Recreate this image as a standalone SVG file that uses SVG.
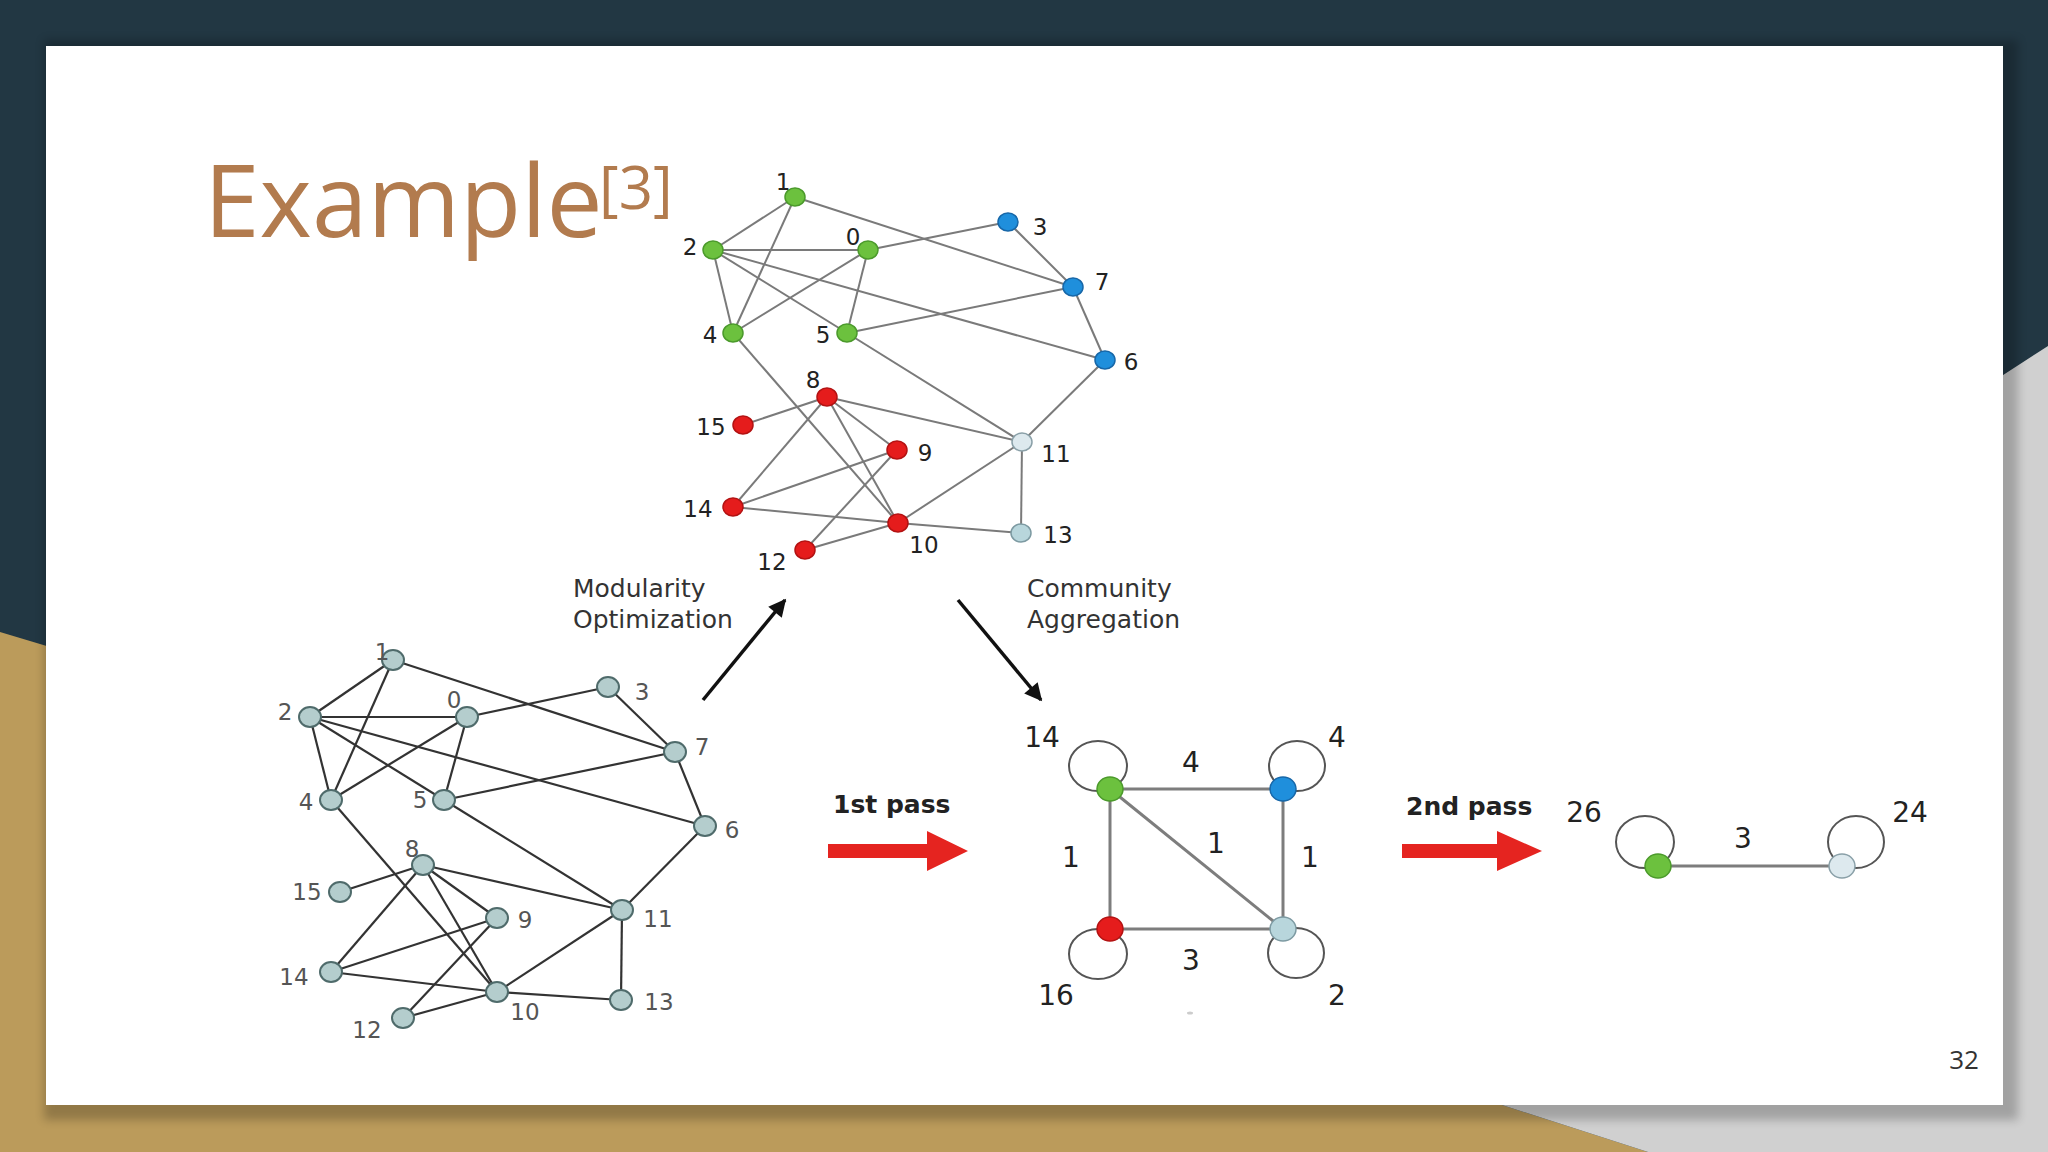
<svg xmlns="http://www.w3.org/2000/svg" width="2048" height="1152" viewBox="0 0 2048 1152">
<defs>
<style>
.lbl{font-family:"DejaVu Sans","Liberation Sans",sans-serif;font-size:23px;text-anchor:middle}
.lt{fill:#222}
.lb{fill:#555}
.eT{stroke:#7a7a7a;stroke-width:2;fill:none}
.eB{stroke:#333;stroke-width:2.2;fill:none}
.nB{fill:#b4cdcd;stroke:#4f6b6b;stroke-width:2}
.g{fill:#6cc13e;stroke:#4b9a2b;stroke-width:1.5}
.b{fill:#1f8fdc;stroke:#1767a8;stroke-width:1.5}
.r{fill:#e51c1c;stroke:#b31212;stroke-width:1.5}
.w{fill:#dde9ee;stroke:#8aa0a8;stroke-width:1.5}
.c{fill:#b8d6dc;stroke:#7d9aa2;stroke-width:1.5}
.agg{font-family:"DejaVu Sans","Liberation Sans",sans-serif;font-size:28px;fill:#222;text-anchor:middle}
.cap{font-family:"DejaVu Sans","Liberation Sans",sans-serif;font-size:25px;fill:#333}
.pass{font-family:"DejaVu Sans","Liberation Sans",sans-serif;font-size:25px;font-weight:bold;fill:#222}
.loop{fill:none;stroke:#555;stroke-width:2}
.ae{stroke:#7d7d7d;stroke-width:3}
.red{fill:#e52420}
</style>
<marker id="ah" viewBox="0 0 10 10" refX="9" refY="5" markerWidth="6" markerHeight="5" markerUnits="strokeWidth" orient="auto">
<path d="M0,0 L10,5 L0,10 z" fill="#111"/>
</marker>
<filter id="sh" x="-5%" y="-5%" width="110%" height="110%"><feGaussianBlur stdDeviation="5"/></filter>
</defs>

<!-- background -->
<rect width="2048" height="1152" fill="#223743"/>
<polygon points="0,632 80,656 80,1105 1502,1105 1648,1152 0,1152" fill="#bb9b5b"/>
<polygon points="1980,390 2048,346 2048,1152 1648,1152 1502,1105 1980,1105" fill="#d0d0d0"/>
<rect x="44" y="40" width="1974" height="1080" fill="#000" opacity="0.22" filter="url(#sh)"/>
<rect x="46" y="46" width="1957" height="1059" fill="#ffffff"/>

<!-- title -->
<g id="title">
<text x="204" y="237" font-family="'Open Sans','Lato',sans-serif" font-size="100" fill="#b27b4e">Example</text>
<text x="599" y="209" font-family="'Open Sans','Lato',sans-serif" font-size="60" fill="#b27b4e">[3]</text>
</g>

<!-- connectors -->
<g id="connectors">
<g id="top-edges" class="eT">
<line x1="795" y1="197" x2="713" y2="250"/>
<line x1="795" y1="197" x2="733" y2="333"/>
<line x1="795" y1="197" x2="1073" y2="287"/>
<line x1="713" y1="250" x2="868" y2="250"/>
<line x1="713" y1="250" x2="733" y2="333"/>
<line x1="713" y1="250" x2="847" y2="333"/>
<line x1="713" y1="250" x2="1105" y2="360"/>
<line x1="868" y1="250" x2="1008" y2="222"/>
<line x1="868" y1="250" x2="733" y2="333"/>
<line x1="868" y1="250" x2="847" y2="333"/>
<line x1="1008" y1="222" x2="1073" y2="287"/>
<line x1="1073" y1="287" x2="847" y2="333"/>
<line x1="1073" y1="287" x2="1105" y2="360"/>
<line x1="733" y1="333" x2="898" y2="523"/>
<line x1="847" y1="333" x2="1022" y2="442"/>
<line x1="1105" y1="360" x2="1022" y2="442"/>
<line x1="827" y1="397" x2="743" y2="425"/>
<line x1="827" y1="397" x2="733" y2="507"/>
<line x1="827" y1="397" x2="897" y2="450"/>
<line x1="827" y1="397" x2="898" y2="523"/>
<line x1="827" y1="397" x2="1022" y2="442"/>
<line x1="897" y1="450" x2="733" y2="507"/>
<line x1="897" y1="450" x2="805" y2="550"/>
<line x1="733" y1="507" x2="898" y2="523"/>
<line x1="898" y1="523" x2="1022" y2="442"/>
<line x1="898" y1="523" x2="1021" y2="533"/>
<line x1="898" y1="523" x2="805" y2="550"/>
<line x1="1022" y1="442" x2="1021" y2="533"/>
</g>
<g id="bottom-edges" class="eB">
<line x1="393" y1="660" x2="310" y2="717"/>
<line x1="393" y1="660" x2="331" y2="800"/>
<line x1="393" y1="660" x2="675" y2="752"/>
<line x1="310" y1="717" x2="467" y2="717"/>
<line x1="310" y1="717" x2="331" y2="800"/>
<line x1="310" y1="717" x2="444" y2="800"/>
<line x1="310" y1="717" x2="705" y2="826"/>
<line x1="467" y1="717" x2="608" y2="687"/>
<line x1="467" y1="717" x2="331" y2="800"/>
<line x1="467" y1="717" x2="444" y2="800"/>
<line x1="608" y1="687" x2="675" y2="752"/>
<line x1="675" y1="752" x2="444" y2="800"/>
<line x1="675" y1="752" x2="705" y2="826"/>
<line x1="331" y1="800" x2="497" y2="992"/>
<line x1="444" y1="800" x2="622" y2="910"/>
<line x1="705" y1="826" x2="622" y2="910"/>
<line x1="423" y1="865" x2="340" y2="892"/>
<line x1="423" y1="865" x2="331" y2="972"/>
<line x1="423" y1="865" x2="497" y2="918"/>
<line x1="423" y1="865" x2="497" y2="992"/>
<line x1="423" y1="865" x2="622" y2="910"/>
<line x1="497" y1="918" x2="331" y2="972"/>
<line x1="497" y1="918" x2="403" y2="1018"/>
<line x1="331" y1="972" x2="497" y2="992"/>
<line x1="497" y1="992" x2="622" y2="910"/>
<line x1="497" y1="992" x2="621" y2="1000"/>
<line x1="497" y1="992" x2="403" y2="1018"/>
<line x1="622" y1="910" x2="621" y2="1000"/>
</g>
<g id="agg-edges">
<line class="ae" x1="1110" y1="789" x2="1283" y2="789"/>
<line class="ae" x1="1110" y1="789" x2="1110" y2="929"/>
<line class="ae" x1="1283" y1="789" x2="1283" y2="929"/>
<line class="ae" x1="1110" y1="929" x2="1283" y2="929"/>
<line class="ae" x1="1110" y1="789" x2="1283" y2="929"/>
<ellipse class="loop" cx="1098" cy="766" rx="29" ry="25"/>
<ellipse class="loop" cx="1297" cy="766" rx="28" ry="25"/>
<ellipse class="loop" cx="1098" cy="954" rx="29" ry="25"/>
<ellipse class="loop" cx="1296" cy="953" rx="28" ry="25"/>
<line class="ae" x1="1658" y1="866" x2="1842" y2="866"/>
<ellipse class="loop" cx="1645" cy="842" rx="29" ry="26"/>
<ellipse class="loop" cx="1856" cy="842" rx="28" ry="26"/>
</g>
<g id="flow-arrows">
<line x1="703" y1="700" x2="785" y2="600" stroke="#111" stroke-width="3.5" marker-end="url(#ah)"/>
<line x1="958" y1="600" x2="1041" y2="700" stroke="#111" stroke-width="3.5" marker-end="url(#ah)"/>
<polygon class="red" points="828,844 927,844 927,831 968,851 927,871 927,858 828,858"/>
<polygon class="red" points="1402,844 1497,844 1497,831 1542,851 1497,871 1497,858 1402,858"/>
</g>
</g>

<!-- top graph nodes -->
<g id="top-graph">
<g id="t1"><ellipse class="g" cx="795" cy="197" rx="10" ry="9"/><text class="lbl lt" x="783" y="190">1</text></g>
<g id="t2"><ellipse class="g" cx="713" cy="250" rx="10" ry="9"/><text class="lbl lt" x="690" y="255">2</text></g>
<g id="t0"><ellipse class="g" cx="868" cy="250" rx="10" ry="9"/><text class="lbl lt" x="853" y="245">0</text></g>
<g id="t3"><ellipse class="b" cx="1008" cy="222" rx="10" ry="9"/><text class="lbl lt" x="1040" y="235">3</text></g>
<g id="t7"><ellipse class="b" cx="1073" cy="287" rx="10" ry="9"/><text class="lbl lt" x="1102" y="290">7</text></g>
<g id="t4"><ellipse class="g" cx="733" cy="333" rx="10" ry="9"/><text class="lbl lt" x="710" y="343">4</text></g>
<g id="t5"><ellipse class="g" cx="847" cy="333" rx="10" ry="9"/><text class="lbl lt" x="823" y="343">5</text></g>
<g id="t6"><ellipse class="b" cx="1105" cy="360" rx="10" ry="9"/><text class="lbl lt" x="1131" y="370">6</text></g>
<g id="t8"><ellipse class="r" cx="827" cy="397" rx="10" ry="9"/><text class="lbl lt" x="813" y="388">8</text></g>
<g id="t15"><ellipse class="r" cx="743" cy="425" rx="10" ry="9"/><text class="lbl lt" x="711" y="435">15</text></g>
<g id="t9"><ellipse class="r" cx="897" cy="450" rx="10" ry="9"/><text class="lbl lt" x="925" y="461">9</text></g>
<g id="t11"><ellipse class="w" cx="1022" cy="442" rx="10" ry="9"/><text class="lbl lt" x="1056" y="462">11</text></g>
<g id="t14"><ellipse class="r" cx="733" cy="507" rx="10" ry="9"/><text class="lbl lt" x="698" y="517">14</text></g>
<g id="t10"><ellipse class="r" cx="898" cy="523" rx="10" ry="9"/><text class="lbl lt" x="924" y="553">10</text></g>
<g id="t13"><ellipse class="c" cx="1021" cy="533" rx="10" ry="9"/><text class="lbl lt" x="1058" y="543">13</text></g>
<g id="t12"><ellipse class="r" cx="805" cy="550" rx="10" ry="9"/><text class="lbl lt" x="772" y="570">12</text></g>
</g>

<!-- bottom graph nodes -->
<g id="bottom-graph">
<g id="b1"><ellipse class="nB" cx="393" cy="660" rx="11" ry="10"/><text class="lbl lb" x="382" y="660">1</text></g>
<g id="b2"><ellipse class="nB" cx="310" cy="717" rx="11" ry="10"/><text class="lbl lb" x="285" y="720">2</text></g>
<g id="b0"><ellipse class="nB" cx="467" cy="717" rx="11" ry="10"/><text class="lbl lb" x="454" y="708">0</text></g>
<g id="b3"><ellipse class="nB" cx="608" cy="687" rx="11" ry="10"/><text class="lbl lb" x="642" y="700">3</text></g>
<g id="b7"><ellipse class="nB" cx="675" cy="752" rx="11" ry="10"/><text class="lbl lb" x="702" y="755">7</text></g>
<g id="b4"><ellipse class="nB" cx="331" cy="800" rx="11" ry="10"/><text class="lbl lb" x="306" y="810">4</text></g>
<g id="b5"><ellipse class="nB" cx="444" cy="800" rx="11" ry="10"/><text class="lbl lb" x="420" y="808">5</text></g>
<g id="b6"><ellipse class="nB" cx="705" cy="826" rx="11" ry="10"/><text class="lbl lb" x="732" y="838">6</text></g>
<g id="b8"><ellipse class="nB" cx="423" cy="865" rx="11" ry="10"/><text class="lbl lb" x="412" y="857">8</text></g>
<g id="b15"><ellipse class="nB" cx="340" cy="892" rx="11" ry="10"/><text class="lbl lb" x="307" y="900">15</text></g>
<g id="b9"><ellipse class="nB" cx="497" cy="918" rx="11" ry="10"/><text class="lbl lb" x="525" y="928">9</text></g>
<g id="b11"><ellipse class="nB" cx="622" cy="910" rx="11" ry="10"/><text class="lbl lb" x="658" y="927">11</text></g>
<g id="b14"><ellipse class="nB" cx="331" cy="972" rx="11" ry="10"/><text class="lbl lb" x="294" y="985">14</text></g>
<g id="b10"><ellipse class="nB" cx="497" cy="992" rx="11" ry="10"/><text class="lbl lb" x="525" y="1020">10</text></g>
<g id="b13"><ellipse class="nB" cx="621" cy="1000" rx="11" ry="10"/><text class="lbl lb" x="659" y="1010">13</text></g>
<g id="b12"><ellipse class="nB" cx="403" cy="1018" rx="11" ry="10"/><text class="lbl lb" x="367" y="1038">12</text></g>
</g>

<!-- aggregated graph -->
<g id="agg-graph">
<g id="a-green"><ellipse class="g" cx="1110" cy="789" rx="13" ry="12"/><text class="agg" x="1042" y="747">14</text></g>
<g id="a-blue"><ellipse class="b" cx="1283" cy="789" rx="13" ry="12"/><text class="agg" x="1337" y="747">4</text></g>
<g id="a-red"><ellipse class="r" cx="1110" cy="929" rx="13" ry="12"/><text class="agg" x="1056" y="1005">16</text></g>
<g id="a-light"><ellipse class="c" cx="1283" cy="929" rx="13" ry="12"/><text class="agg" x="1337" y="1005">2</text></g>
<g id="a-weights">
<text class="agg" x="1191" y="772">4</text>
<text class="agg" x="1071" y="867">1</text>
<text class="agg" x="1216" y="853">1</text>
<text class="agg" x="1310" y="867">1</text>
<text class="agg" x="1191" y="970">3</text>
</g>
<ellipse cx="1190" cy="1013" rx="3" ry="1.5" fill="#ccc"/>
</g>

<!-- second pass graph -->
<g id="final-graph">
<g id="f-green"><ellipse class="g" cx="1658" cy="866" rx="13" ry="12"/><text class="agg" x="1584" y="822" font-size="34">26</text></g>
<g id="f-light"><ellipse class="w" cx="1842" cy="866" rx="13" ry="12"/><text class="agg" x="1910" y="822" font-size="34">24</text></g>
<text class="agg" x="1743" y="848" font-size="32">3</text>
</g>

<!-- captions -->
<g id="captions">
<text class="cap" x="573" y="597">Modularity</text>
<text class="cap" x="573" y="628">Optimization</text>
<text class="cap" x="1027" y="597">Community</text>
<text class="cap" x="1027" y="628">Aggregation</text>
<text class="pass" x="833" y="813">1st pass</text>
<text class="pass" x="1406" y="815" font-size="26">2nd pass</text>
</g>

<text id="page-num" x="1964" y="1069" font-family="'Open Sans','Liberation Sans',sans-serif" font-size="26" fill="#333" text-anchor="middle">32</text>
</svg>
